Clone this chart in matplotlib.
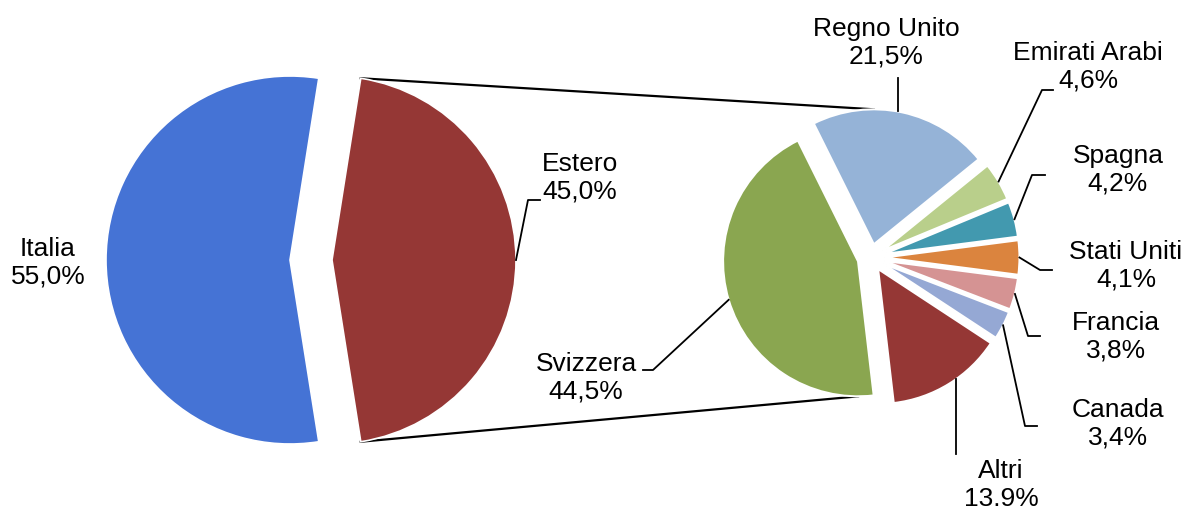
import math
import matplotlib
matplotlib.use("Agg")
import matplotlib.pyplot as plt

plt.rcParams["font.family"] = ["Liberation Sans", "DejaVu Sans"]

# ---- dati ----
main_labels = ["Estero", "Italia"]
main_values = [45.0, 55.0]
main_text = ["45,0%", "55,0%"]

sub_labels = ["Regno Unito", "Emirati Arabi", "Spagna", "Stati Uniti",
              "Francia", "Canada", "Altri", "Svizzera"]
sub_values = [21.5, 4.6, 4.2, 4.1, 3.8, 3.4, 13.9, 44.5]
sub_text = ["21,5%", "4,6%", "4,2%", "4,1%", "3,8%", "3,4%", "13.9%", "44,5%"]

main_colors = ["#953735", "#4573D5"]
sub_colors = ["#95B3D7", "#B9CF8B", "#4299AF", "#DB843E",
              "#D59393", "#95A8D4", "#953735", "#8AA650"]

W, H = 1186, 510


def px(x, y):
    # coordinate in pixel (y verso il basso) -> coordinate dati
    return x, H - y


fig = plt.figure(figsize=(W / 100, H / 100), dpi=100)
ax = fig.add_axes([0, 0, 1, 1])

# torta principale (Estero centrata a destra)
R1, C1, E1 = 184, px(311, 261), 21
start1 = -main_values[0] / 100 * 360 / 2
w1, _ = ax.pie(main_values, colors=main_colors, radius=R1, center=C1,
               explode=[E1, E1], startangle=start1, counterclock=True,
               frame=True, wedgeprops=dict(edgecolor="white", linewidth=1.2))

# torta secondaria (Stati Uniti centrata a destra)
R2, C2, E2 = 135, px(871, 258.5), 13.5
before = sum(sub_values[:3]) + sub_values[3] / 2
start2 = before / 100 * 360
w2, _ = ax.pie(sub_values, colors=sub_colors, radius=R2, center=C2,
               explode=[E2] * len(sub_values), startangle=start2, counterclock=False,
               frame=True, wedgeprops=dict(edgecolor="white", linewidth=1.5))


def edge_point(w, ang):
    cx, cy = w.center
    a = math.radians(ang)
    return cx + w.r * math.cos(a), cy + w.r * math.sin(a)


def edge_at_x(w, x, upper):
    cx, cy = w.center
    dy = math.sqrt(max(w.r ** 2 - (x - cx) ** 2, 0))
    return x, (cy + dy if upper else cy - dy)


def mid(w):
    return (w.theta1 + w.theta2) / 2


# linee di collegamento
est = w1[0]
ru, sv = w2[0], w2[-1]
p_top = edge_point(est, est.theta2)
p_bot = edge_point(est, est.theta1)
q_top = edge_point(ru, 90)
q_bot = edge_point(sv, 270)
ax.plot([p_top[0], q_top[0]], [p_top[1], q_top[1]], color="black", lw=1.6, zorder=0)
ax.plot([p_bot[0], q_bot[0]], [p_bot[1], q_bot[1]], color="black", lw=1.6, zorder=0)

fs = 19
ls = 1.2
# etichette torta principale: posizione testo, gomito e fine della linea guida
main_pos = [(580, 178), (48, 263)]
main_leader = [[(528, 201), (540, 201)], None]
for w, lab, t, pos, ld in zip(w1, main_labels, main_text, main_pos, main_leader):
    ax.text(*px(*pos), f"{lab}\n{t}", ha="center", va="center", fontsize=fs,
            linespacing=ls)
    if ld:
        s = edge_point(w, mid(w))
        pts = [s] + [px(*p) for p in ld]
        ax.plot([p[0] for p in pts], [p[1] for p in pts], color="black", lw=1.3)

sub_pos = [(886, 43), (1088, 67), (1118, 170), (1126, 266),
           (1116, 337), (1118, 424), (1001, 485), (586, 378)]
sub_leader = [
    [(898, 79)],
    [(1042, 91), (1053, 91)],
    [(1032, 176), (1045, 176)],
    [(1040, 271), (1052, 271)],
    [(1028, 337), (1040, 337)],
    [(1025, 427), (1037, 427)],
    [(956, 455)],
    [(653, 371), (643, 371)],
]
for w, lab, t, pos, ld in zip(w2, sub_labels, sub_text, sub_pos, sub_leader):
    ax.text(*px(*pos), f"{lab}\n{t}", ha="center", va="center", fontsize=fs,
            linespacing=ls)
    pts = [px(*p) for p in ld]
    if len(ld) == 1:
        s = edge_at_x(w, pts[0][0], pts[0][1] > w.center[1])
    else:
        s = edge_point(w, mid(w))
    pts = [s] + pts
    ax.plot([p[0] for p in pts], [p[1] for p in pts], color="black", lw=1.3)

ax.set_xlim(0, W)
ax.set_ylim(0, H)
ax.set_aspect("equal")
ax.axis("off")
fig.savefig("out.png", dpi=100)
